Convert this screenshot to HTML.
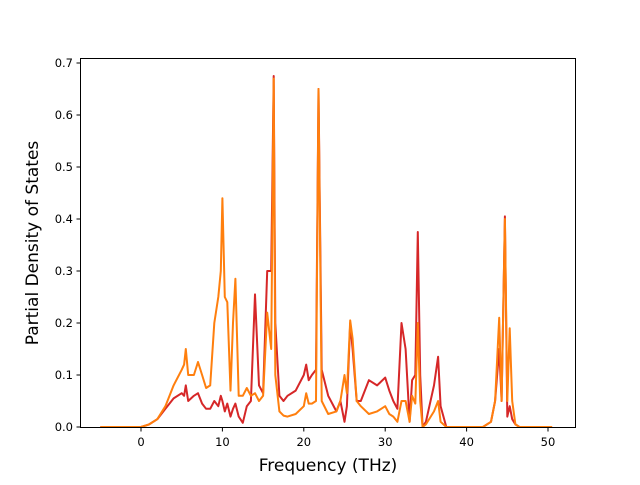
<!DOCTYPE html>
<html><head><meta charset="utf-8"><style>
body{margin:0;background:#fff;font-family:"Liberation Sans","DejaVu Sans",sans-serif}
svg text{font-family:"DejaVu Sans","Liberation Sans",sans-serif}
</style></head><body>
<svg id="chart" width="640" height="480" xmlns="http://www.w3.org/2000/svg">
<rect width="640" height="480" fill="#fff"/>
<g id="plot"></g>
<rect x="80.5" y="58.5" width="495" height="369" fill="none" stroke="#000" stroke-width="1"/>
<g id="axes"></g>
<text x="328" y="471" font-size="17" text-anchor="middle">Frequency (THz)</text>
<text transform="translate(38,243) rotate(-90)" font-size="17" text-anchor="middle">Partial Density of States</text>
</svg>
<script>
const freqs=[-5,0,1,2,3,4,5,5.3,5.5,5.8,6.5,7,7.5,8,8.5,9,9.5,9.8,10,10.3,10.6,11,11.3,11.6,12,12.5,13,13.5,14,14.5,15,15.5,16,16.3,16.5,17,17.5,18,19,20,20.3,20.6,21,21.5,21.8,22.2,23,24,24.5,25,25.3,25.7,26,26.5,27,28,29,30,30.5,31,31.5,32,32.5,33,33.3,33.7,34,34.3,34.6,35,36,36.5,36.8,37.5,42,43,43.5,44,44.3,44.7,45,45.3,45.6,46,46.5,50.5];
const orangeVals=[0,0,0.005,0.015,0.04,0.08,0.11,0.12,0.15,0.1,0.1,0.125,0.1,0.075,0.08,0.2,0.25,0.3,0.44,0.25,0.24,0.07,0.2,0.285,0.06,0.06,0.075,0.06,0.065,0.05,0.06,0.22,0.15,0.67,0.1,0.03,0.022,0.02,0.025,0.04,0.065,0.045,0.045,0.05,0.65,0.05,0.025,0.03,0.05,0.1,0.065,0.205,0.17,0.05,0.04,0.025,0.03,0.04,0.025,0.02,0.01,0.05,0.05,0.01,0.06,0.045,0.2,0.05,0,0.005,0.03,0.05,0.01,0,0,0.01,0.05,0.21,0.05,0.4,0.05,0.19,0.05,0.005,0,0];
const redVals=[0,0,0.005,0.015,0.035,0.055,0.065,0.06,0.08,0.05,0.06,0.065,0.045,0.035,0.035,0.05,0.04,0.06,0.05,0.03,0.045,0.02,0.035,0.045,0.02,0.008,0.04,0.05,0.255,0.08,0.065,0.3,0.3,0.675,0.2,0.06,0.05,0.06,0.07,0.1,0.12,0.09,0.1,0.11,0.65,0.11,0.06,0.03,0.05,0.01,0.04,0.2,0.15,0.05,0.05,0.09,0.08,0.095,0.07,0.05,0.035,0.2,0.15,0.01,0.09,0.1,0.375,0.1,0,0.01,0.08,0.135,0.04,0,0,0.01,0.05,0.15,0.05,0.405,0.02,0.04,0.015,0.005,0,0];
const xTicks=[0,10,20,30,40,50];
const yTicks=[0,0.1,0.2,0.3,0.4,0.5,0.6,0.7];
const yTickLabels=["0.0","0.1","0.2","0.3","0.4","0.5","0.6","0.7"];
const X=f=>141+8.14*f, Y=v=>427-520*v;
const NS="http://www.w3.org/2000/svg";
const plot=document.getElementById('plot'), axes=document.getElementById('axes');
function line(vals,color,w,name){
  const p=document.createElementNS(NS,'polyline');
  p.setAttribute('points',freqs.map((f,i)=>X(f).toFixed(1)+','+Y(vals[i]).toFixed(1)).join(' '));
  p.setAttribute('fill','none');p.setAttribute('stroke',color);p.setAttribute('stroke-width',w);p.setAttribute('stroke-linejoin','round');
  
  
  plot.appendChild(p);
}
line(redVals,'#d62728',2,'series-red');
line(orangeVals,'#ff7f0e',2,'series-orange');
xTicks.forEach(t=>{
  const l=document.createElementNS(NS,'line');
  l.setAttribute('x1',X(t));l.setAttribute('x2',X(t));l.setAttribute('y1',428);l.setAttribute('y2',431.5);l.setAttribute('stroke','#000');
  
  
  axes.appendChild(l);
  const tx=document.createElementNS(NS,'text');
  tx.setAttribute('x',X(t));tx.setAttribute('y',446);tx.setAttribute('font-size','11.5');tx.setAttribute('text-anchor','middle');
  tx.textContent=t;
  
  
  axes.appendChild(tx);
});
yTicks.forEach((t,i)=>{
  const l=document.createElementNS(NS,'line');
  l.setAttribute('x1',76.5);l.setAttribute('x2',80);l.setAttribute('y1',Y(t));l.setAttribute('y2',Y(t));l.setAttribute('stroke','#000');
  
  
  axes.appendChild(l);
  const tx=document.createElementNS(NS,'text');
  tx.setAttribute('x',73);tx.setAttribute('y',Y(t)+4);tx.setAttribute('font-size','11.5');tx.setAttribute('text-anchor','end');
  tx.textContent=yTickLabels[i];
  
  
  axes.appendChild(tx);
});
</script>
</body></html>
